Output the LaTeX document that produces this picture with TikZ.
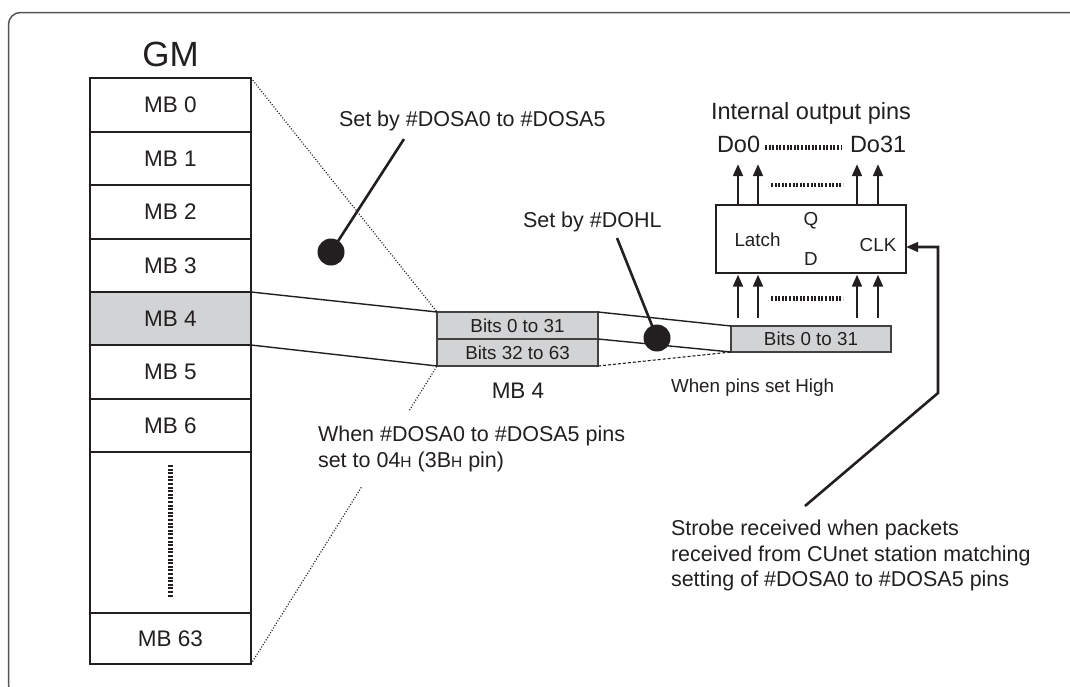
\documentclass[tikz,border=0pt]{standalone}
\usepackage{fontspec}
\setmainfont{Liberation Sans}
\usetikzlibrary{arrows.meta,calc}
\definecolor{ink}{HTML}{231F20}
\definecolor{cellgray}{HTML}{D1D3D4}
\definecolor{framegray}{HTML}{555555}
\newcommand{\smallH}{{\fontsize{15.5}{15.5}\selectfont H}}
\begin{document}
\begin{tikzpicture}[x=1pt,y=-1pt,
  every node/.style={text=ink, inner sep=0pt, outer sep=0pt},
  cell/.style={draw=ink, line width=1.3pt, minimum width=161pt, font=\fontsize{22.5}{26}\selectfont},
  bitbox/.style={draw=ink!85, fill=cellgray, line width=1.2pt, minimum width=161pt, minimum height=27pt, font=\fontsize{18.8}{22}\selectfont},
  lbl/.style={font=\fontsize{21.5}{25.5}\selectfont, align=left},
  pin/.style={draw=ink, line width=2.8pt, -{Triangle[length=12pt,width=9.5pt]}},
  dotrow/.style={draw=ink, line width=4.5pt, dash pattern=on 2pt off 1.6pt},
  zoomline/.style={draw=ink, line width=1.2pt, dash pattern=on 1pt off 1.8pt},
  dashline/.style={draw=ink, line width=1.1pt, dash pattern=on 3pt off 2pt},
  link/.style={draw=ink, line width=1.4pt},
  lead/.style={draw=ink, line width=2.6pt},
  ball/.style={circle, fill=ink, minimum size=27pt}
]
\useasboundingbox (0,0) rectangle (1070,686);
\fill[white] (0,0) rectangle (1070,686);
% frame
\draw[framegray, line width=1.5pt, rounded corners=12pt] (8.5,12.5) rectangle (1090,697);

% GM memory table
\node[font=\fontsize{35}{38}\selectfont, anchor=base] (gm) at (170.5,66) {GM};
\node[cell, minimum height=54pt] (mb0) at (170.5,105) {MB 0};
\node[cell, minimum height=53pt] (mb1) at (170.5,158.5) {MB 1};
\node[cell, minimum height=54pt] (mb2) at (170.5,212) {MB 2};
\node[cell, minimum height=53pt] (mb3) at (170.5,265.5) {MB 3};
\node[cell, minimum height=53pt, fill=cellgray] (mb4) at (170.5,318.5) {MB 4};
\node[cell, minimum height=54pt] (mb5) at (170.5,372) {MB 5};
\node[cell, minimum height=53pt] (mb6) at (170.5,425.5) {MB 6};
\node[cell, minimum height=161pt] (mbdots) at (170.5,532.5) {};
\node[cell, minimum height=51pt] (mb63) at (170.5,638.5) {MB 63};
\draw[ink, line width=2.6pt] (mb0.north west) rectangle (mb63.south east);
\draw[dotrow] (170.5,465) -- (170.5,597);

% MB4 expanded
\node[bitbox] (bitsA) at (517.5,325.5) {Bits 0 to 31};
\node[bitbox] (bitsB) at (517.5,352.5) {Bits 32 to 63};
\node[font=\fontsize{22.5}{26}\selectfont, anchor=base] (mb4lbl) at (518,398) {MB 4};

% zoom lines
\draw[zoomline] (mb0.north east) -- (bitsA.north west);
\draw[zoomline] (mb63.south east) -- ($(bitsB.south west)!0.403!(mb63.south east)$);
\draw[zoomline] ($(bitsB.south west)!0.148!(mb63.south east)$) -- (bitsB.south west);
\draw[link] (mb4.north east) -- (bitsA.north west);
\draw[link] (mb4.south east) -- (bitsB.south west);

% right bits box
\node[bitbox, minimum width=160pt, minimum height=26pt] (bitsR) at (811,339) {Bits 0 to 31};
\draw[link] (bitsA.north east) -- (bitsR.north west);
\draw[link] (bitsA.south east) -- (bitsR.south west);
\draw[dashline] (bitsB.south east) -- (bitsR.south west);

% annotations with balls
\node[lbl, anchor=base west] (setdosa) at (339,126) {Set by \#DOSA0 to \#DOSA5};
\coordinate (lead1) at (404,139);
\node[ball] (ball1) at (331,252) {};
\draw[lead] (ball1.center) -- (lead1);

\node[lbl, anchor=base west] (setdohl) at (523,227) {Set by \#DOHL};
\coordinate (lead2) at (617,238);
\draw[lead] (lead2) -- (657,338);
\node[ball] (ball2) at (657,338) {};

\node[font=\fontsize{18.8}{22}\selectfont, anchor=base west] (pinshigh) at (671,392) {When pins set High};

\node[lbl, anchor=north west] (whendosa) at (318,426) {When \#DOSA0 to \#DOSA5 pins\\set to 04\smallH{} (3B\smallH{} pin)};

% latch
\node[draw=ink, line width=2.5pt, minimum width=190pt, minimum height=68pt] (latch) at (811,239) {};
\node[font=\fontsize{18.8}{22}\selectfont] (q) at (811,220.5) {Q};
\node[font=\fontsize{18.8}{22}\selectfont] (latchlbl) at (757.5,239.5) {Latch};
\node[font=\fontsize{18.8}{22}\selectfont] (d) at (811,259.5) {D};
\node[font=\fontsize{18.8}{22}\selectfont] (clklbl) at (878,245.5) {CLK};

% output pins
\node[font=\fontsize{23.5}{27}\selectfont, anchor=base] (intpins) at (811,119) {Internal output pins};
\node[font=\fontsize{23.5}{27}\selectfont, anchor=base west] (do0) at (717,152) {Do0};
\node[font=\fontsize{23.5}{27}\selectfont, anchor=base west] (do31) at (850,152) {Do31};
\draw[dotrow] (765,147.5) -- (842,147.5);

\foreach \dx in {22,42,141,162} {
  \draw[pin] ($(latch.north west)+(\dx,0)$) -- ++(0,-41);
  \draw[pin] ($(latch.south west)+(\dx,45)$) -- ($(latch.south west)+(\dx,1.5)$);
}
\draw[dotrow] (771,185) -- (843,185);
\draw[dotrow] (771,298.5) -- (843,298.5);

% strobe
\node[lbl, anchor=north west] (strobe) at (671,520) {Strobe received when packets\\received from CUnet station matching\\setting of \#DOSA0 to \#DOSA5 pins};
\coordinate (strobeTop) at (805,506);
\coordinate (bend1) at (938,393);
\coordinate (clk) at ($(latch.east)+(0,8)$);
\draw[lead, -{Triangle[length=12pt,width=9.5pt]}] (strobeTop) -- (bend1) -- (bend1 |- clk) -- (clk);
\end{tikzpicture}
\end{document}
